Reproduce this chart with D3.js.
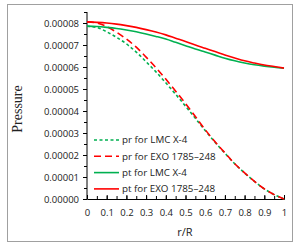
<!DOCTYPE html>
<html>
<head>
<meta charset="utf-8">
<script src="https://cdn.jsdelivr.net/npm/d3@7"></script>
<style>
  body { margin: 0; background: #fff; }
  svg text { font-family: "Open Sans", "Liberation Sans", sans-serif; }
</style>
</head>
<body>
<div id="chart"></div>
<script>
// r/R sample points
var rValues = [0, 0.05, 0.1, 0.15, 0.2, 0.25, 0.3, 0.35, 0.4, 0.45, 0.5,
               0.55, 0.6, 0.65, 0.7, 0.75, 0.8, 0.85, 0.9, 0.95, 1];

// pressure values, in units of 1e-5
var prLMC = [7.85, 7.8, 7.6, 7.35, 7.05, 6.68, 6.24, 5.78, 5.28, 4.76, 4.22,
             3.67, 3.11, 2.58, 2.08, 1.6, 1.18, 0.8, 0.46, 0.2, 0];
var prEXO = [8.05, 8.0, 7.84, 7.58, 7.27, 6.9, 6.45, 5.97, 5.45, 4.9, 4.34,
             3.75, 3.15, 2.6, 2.1, 1.6, 1.19, 0.8, 0.46, 0.2, 0];
var ptLMC = [7.86, 7.84, 7.8, 7.75, 7.68, 7.6, 7.5, 7.39, 7.27, 7.12, 6.97,
             6.82, 6.68, 6.54, 6.4, 6.28, 6.18, 6.1, 6.04, 5.99, 5.95];
var ptEXO = [8.05, 8.03, 8.0, 7.95, 7.88, 7.8, 7.7, 7.59, 7.46, 7.31, 7.16,
             7.0, 6.85, 6.7, 6.55, 6.41, 6.28, 6.18, 6.09, 6.02, 5.95];

var yTicks = [0, 0.00001, 0.00002, 0.00003, 0.00004, 0.00005, 0.00006, 0.00007, 0.00008];
var xTicks = [0, 0.1, 0.2, 0.3, 0.4, 0.5, 0.6, 0.7, 0.8, 0.9, 1];

var series = [
  { name: "pr for LMC X-4", values: prLMC, color: "#00b050", dash: "3,2.5" },
  { name: "pr for EXO 1785\u2013248", values: prEXO, color: "#ff0000", dash: "7,4" },
  { name: "pt for LMC X-4", values: ptLMC, color: "#00b050", dash: null },
  { name: "pt for EXO 1785\u2013248", values: ptEXO, color: "#ff0000", dash: null }
];

var svgWidth = 300;
var svgHeight = 252;

var svg = d3.select("#chart")
  .append("svg")
  .attr("width", svgWidth)
  .attr("height", svgHeight);

// outer frame
svg.append("rect")
  .attr("x", 7.5)
  .attr("y", 4.5)
  .attr("width", 285)
  .attr("height", 237)
  .attr("fill", "#fff")
  .attr("stroke", "#a0a0a0");

var xScale = d3.scaleLinear().domain([0, 1]).range([87, 284]);
var yScale = d3.scaleLinear().domain([0, 0.000085]).range([199, 12]);

// y axis
var yAxis = d3.axisLeft(yScale)
  .tickValues(yTicks)
  .tickFormat(d3.format(".5f"))
  .tickSize(4)
  .tickPadding(4);

var yMinor = d3.axisLeft(yScale)
  .tickValues(d3.range(0, 0.0000851, 0.000005))
  .tickFormat("")
  .tickSize(3)
  .tickSizeOuter(0);

svg.append("g")
  .attr("transform", "translate(87,0)")
  .call(yMinor)
  .call(g => g.select(".domain").remove());

var yG = svg.append("g")
  .attr("transform", "translate(87,0)")
  .call(yAxis);
yG.select(".domain").attr("d", "M0," + yScale(0.000085) + "V" + yScale(0));
yG.selectAll("text").attr("font-size", 9.5).attr("fill", "#222");

// x axis, ticks pointing up
var xAxis = d3.axisBottom(xScale)
  .tickValues(xTicks)
  .tickFormat(d3.format("~g"))
  .tickSize(-4)
  .tickPadding(10);

var xMinor = d3.axisBottom(xScale)
  .tickValues(d3.range(0, 1.001, 0.05))
  .tickFormat("")
  .tickSize(-3)
  .tickSizeOuter(0);

svg.append("g")
  .attr("transform", "translate(0,199)")
  .call(xMinor)
  .call(g => g.select(".domain").remove());

var xG = svg.append("g")
  .attr("transform", "translate(0,199)")
  .call(xAxis);
xG.selectAll("text").attr("font-size", 9.5).attr("fill", "#222");

// axis titles
svg.append("text")
  .attr("x", 185)
  .attr("y", 236)
  .attr("text-anchor", "middle")
  .attr("font-size", 11)
  .attr("fill", "#222")
  .text("r/R");

svg.append("text")
  .attr("transform", "translate(22,109) rotate(-90)")
  .attr("text-anchor", "middle")
  .attr("font-size", 14)
  .style("font-family", "'Liberation Serif', 'DejaVu Serif', serif")
  .attr("fill", "#222")
  .text("Pressure");

// curves
var line = d3.line()
  .x((d, i) => xScale(rValues[i]))
  .y(d => yScale(d * 1e-5))
  .curve(d3.curveMonotoneX);

svg.selectAll(".curve")
  .data(series)
  .enter()
  .append("path")
  .attr("class", "curve")
  .attr("d", d => line(d.values))
  .attr("fill", "none")
  .attr("stroke", d => d.color)
  .attr("stroke-width", 1.6)
  .attr("stroke-dasharray", d => d.dash);

// legend
var legend = svg.selectAll(".legend")
  .data(series)
  .enter()
  .append("g")
  .attr("class", "legend")
  .attr("transform", (d, i) => "translate(94," + (140 + i * 16.3) + ")");

legend.append("line")
  .attr("x1", 0)
  .attr("x2", 25)
  .attr("stroke", d => d.color)
  .attr("stroke-width", 1.6)
  .attr("stroke-dasharray", d => d.dash);

legend.append("text")
  .attr("x", 28)
  .attr("dy", "0.35em")
  .attr("font-size", 9.8)
  .attr("fill", "#222")
  .text(d => d.name);
</script>
</body>
</html>
